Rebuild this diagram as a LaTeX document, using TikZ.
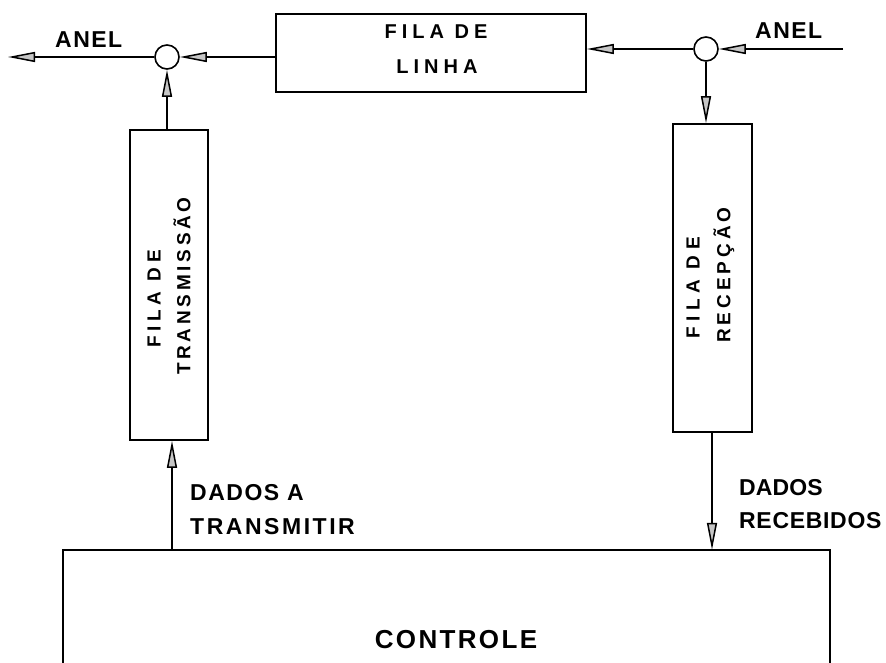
\documentclass[tikz,border=0pt]{standalone}
\usepackage{fontspec}
\setmainfont{Liberation Sans}
\usetikzlibrary{arrows.meta}
\newcommand\lbl[3]{{\fontsize{#1}{#1}\selectfont\bfseries\addfontfeature{LetterSpace=#2}#3}}
\begin{document}
\begin{tikzpicture}[x=1pt,y=-1pt,
  box/.style={draw, line width=1.7pt, inner sep=0pt},
  ring/.style={circle, draw, line width=1.6pt, minimum size=24pt, inner sep=0pt},
  flow/.style={line width=1.5pt, -{Triangle[length=27pt,width=10pt,fill=gray!45]}},
  txt/.style={inner sep=0pt}]
\useasboundingbox (0,0) rectangle (886,663);
% boxes
\node[box, minimum width=310pt, minimum height=78pt] (linha) at (431,53) {};
\node[box, minimum width=78pt, minimum height=310pt] (tb) at (169,285) {};
\node[box, minimum width=79pt, minimum height=308pt] (rb) at (712.5,278) {};
\node[inner sep=0pt, minimum width=767pt, minimum height=120pt] (ctrl) at (446.5,610) {};
\draw[line width=1.7pt] (ctrl.south west) -- (ctrl.north west) -- (ctrl.north east) -- (ctrl.south east);
% rings
\node[ring] (lc) at (167,57) {};
\node[ring] (rc) at (706,49) {};
\coordinate (lout) at (8,57);
\coordinate (rin) at (843,49);
\coordinate (tx) at (172,0);
\coordinate (rx) at (712,0);
% connectors
\draw[flow] (lc.west) -- (lout);
\draw[flow] (linha.west |- lc) -- (lc.east);
\draw[flow] (rin) -- (rc.east);
\draw[flow] (rc.west) -- (rc.west -| linha.east);
\draw[flow] (tb.north -| lc) -- (lc.south);
\draw[flow] (rc.south) -- (rc |- rb.north);
\draw[flow] (tx |- ctrl.north) -- (tx |- tb.south);
\draw[flow] (rx |- rb.south) -- (rx |- ctrl.north);
% texts
\node[txt, anchor=base] (t1) at (436,39) {\lbl{20}{25}{FILA DE}};
\node[txt, anchor=base] (t2) at (437,74) {\lbl{20}{25}{LINHA}};
\node[txt, anchor=base west] (a1) at (55,48) {\lbl{23}{6.5}{ANEL}};
\node[txt, anchor=base west] (a2) at (755,39) {\lbl{23}{6.5}{ANEL}};
\node[txt, anchor=base west] (d1) at (190,500) {\lbl{23}{6.5}{DADOS A}};
\node[txt, anchor=base west] (d2) at (190,534) {\lbl{23}{11}{TRANSMITIR}};
\node[txt, anchor=base west] (d3) at (739,495) {\lbl{23}{0.5}{DADOS}};
\node[txt, anchor=base west] (d4) at (739,528) {\lbl{23}{3}{RECEBIDOS}};
\node[txt, anchor=base] (c1) at (456,648) {\lbl{26}{9}{CONTROLE}};
\node[txt, rotate=90] (r1) at (154,299) {\lbl{19}{25}{FILA DE}};
\node[txt, rotate=90] (r2) at (182,286) {\lbl{19}{19.5}{TRANSMISSÃO}};
\node[txt, rotate=90] (r3) at (693,288) {\lbl{19}{29}{FILA DE}};
\node[txt, rotate=90] (r4) at (724,275) {\lbl{19}{21}{RECEPÇÃO}};
\end{tikzpicture}
\end{document}
